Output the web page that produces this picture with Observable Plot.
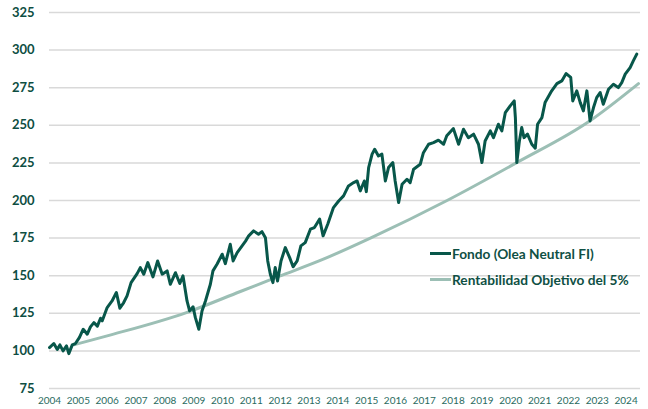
<!DOCTYPE html>
<html>
<head>
<meta charset="utf-8">
<script src="https://cdn.jsdelivr.net/npm/d3@7"></script>
<script src="https://cdn.jsdelivr.net/npm/@observablehq/plot@0.6"></script>
<style>
  html, body { margin: 0; padding: 0; background: #ffffff; }
  #wrap { position: relative; width: 648px; height: 409px; font-family: Lato, "Open Sans", sans-serif; }
  #wrap svg { display: block; }
  g[aria-label="y-axis tick label"] { fill: #0e4e42; font-weight: 700; font-size: 13px; }
  g[aria-label="x-axis tick label"] { fill: #2a6b5f; font-size: 10px; }
  #legend { position: absolute; left: 430px; top: 244px; font-weight: 700; font-size: 13.7px; color: #0f5044; }
  #legend .row { display: flex; align-items: center; height: 18px; margin-bottom: 8px; white-space: nowrap; }
  #legend .sw { width: 21px; height: 3px; margin-right: 1px; }
</style>
</head>
<body>
<div id="wrap">
  <div id="legend"></div>
</div>
<script>
// Series names and colours
const seriesNames = ["Fondo (Olea Neutral FI)", "Rentabilidad Objetivo del 5%"];
const seriesColors = ["#08574a", "#9cbfb5"];

// Axis ticks
const yearTicks = [2004,2005,2006,2007,2008,2009,2010,2011,2012,2013,2014,2015,2016,2017,2018,2019,2020,2021,2022,2023,2024];
const valueTicks = [75,100,125,150,175,200,225,250,275,300,325];

// Fund
const fundYears = [
  2004.0,2004.15,2004.27,2004.36,2004.47,2004.59,2004.67,2004.79,2004.9,2005.04,2005.17,2005.31,2005.42,2005.54,2005.66,2005.77,2005.83,
  2006.0,2006.17,2006.32,2006.44,2006.57,2006.69,2006.83,2007.04,2007.15,2007.27,2007.41,2007.59,2007.75,2007.91,
  2008.08,2008.19,2008.37,2008.52,2008.63,2008.77,2008.86,2008.98,2009.06,2009.18,2009.29,2009.41,2009.58,2009.67,2009.81,2009.99,
  2010.1,2010.27,2010.37,2010.51,2010.68,2010.8,2010.91,2011.08,2011.25,2011.37,2011.49,2011.57,2011.66,2011.75,2011.83,2011.91,
  2012.03,2012.18,2012.33,2012.45,2012.59,2012.72,2012.87,2013.05,2013.19,2013.37,2013.49,2013.65,2013.85,
  2014.03,2014.2,2014.37,2014.55,2014.67,2014.78,2014.92,2014.99,2015.07,2015.19,2015.28,2015.41,2015.53,2015.65,2015.76,2015.91,2015.99,
  2016.11,2016.23,2016.4,2016.51,2016.63,2016.86,2016.97,2017.15,2017.32,2017.49,2017.67,2017.78,2018.01,
  2018.19,2018.36,2018.53,2018.71,2018.88,2019.0,2019.11,2019.29,2019.4,2019.57,2019.69,2019.81,2019.98,
  2020.12,2020.16,2020.21,2020.3,2020.38,2020.46,2020.58,2020.73,2020.85,2020.93,2021.08,2021.19,2021.42,2021.6,2021.77,2021.92,
  2022.08,2022.15,2022.29,2022.41,2022.52,2022.64,2022.75,2022.87,2022.98,2023.1,2023.21,2023.39,2023.56,2023.73,2023.85,2023.97,
  2024.14,2024.25,2024.37
];
const fundValues = [
  102.2,104.9,101,104,100,103.3,98.2,104,104.9,109,114.4,111.1,116,118.8,116.5,121.7,120,
  128.8,133.2,138.8,128.4,132,136.6,145.4,151.4,155.4,151,158.7,149.2,159.8,151,
  153.2,144.3,152,144.8,149.9,133.2,126.6,129.3,122.1,114.4,126.6,133.2,144.3,153.2,157.6,164.3,
  158,170.9,159.8,165.4,169.8,173,176.5,179.8,177.6,179.3,175.3,159.8,151,145.4,155.4,146.5,
  159.8,168.7,162,155.9,159.8,169.8,172,180.9,182,187.6,176.5,184.2,195.3,
  199.7,203.1,209.7,211.9,213,206.4,213,205.9,221.9,230.8,234.1,229.6,230.8,213,221.9,225.2,213,
  198.6,210.8,214.1,211.9,220.8,224.1,231.8,237.4,238.5,240.1,237.4,243,247.8,
  237.4,247.4,241.8,244.1,237.4,225.2,239.6,246.3,241.8,250.7,246.3,258.4,262.9,
  266.2,255.1,225.2,239.6,248.5,241.8,244.1,237.4,234.8,250.7,255.1,265.1,272.9,277.7,279.5,284.4,
  281.8,266.2,272.9,265.1,259.6,272.9,252.9,261.8,268.4,271.8,264,274,277.3,275.1,278.4,284,
  288.4,292.8,297.3
];

// 5% target path
const targetYears = [2004.84,2006.0,2008.75,2010.62,2011.95,2013.5,2015.13,2017.79,2020.19,2022.75,2024.43];
const targetValues = [104,110,125.5,139.5,149.5,161,175,200,225,253,277.7];

const fund = fundYears.map((y, i) => ({year: y, value: fundValues[i]}));
const target = targetYears.map((y, i) => ({year: y, value: targetValues[i]}));

const chart = Plot.plot({
  width: 648,
  height: 409,
  marginLeft: 49,
  marginRight: 8,
  marginTop: 12,
  marginBottom: 21,
  style: {fontFamily: "Lato, 'Open Sans', sans-serif", background: "#ffffff", overflow: "visible"},
  x: {domain: [2004, 2024.5], label: null},
  y: {domain: [75, 325], label: null},
  marks: [
    Plot.gridY(valueTicks, {stroke: "#d9d9d9", strokeOpacity: 1, strokeWidth: 1.5}),
    Plot.axisY(valueTicks, {tickSize: 0, tickPadding: 15, label: null}),
    Plot.axisX(yearTicks, {tickSize: 0, tickPadding: 8, tickFormat: d => String(d), label: null}),
    Plot.line(target, {x: "year", y: "value", stroke: seriesColors[1], strokeWidth: 3, curve: "monotone-x"}),
    Plot.line(fund, {x: "year", y: "value", stroke: seriesColors[0], strokeWidth: 3, strokeLinejoin: "round"})
  ]
});
const wrap = document.getElementById("wrap");
wrap.insertBefore(chart, wrap.firstChild);

const legend = document.getElementById("legend");
seriesNames.forEach((name, i) => {
  const row = document.createElement("div");
  row.className = "row";
  const sw = document.createElement("span");
  sw.className = "sw";
  sw.style.background = seriesColors[i];
  const t = document.createElement("span");
  t.textContent = name;
  row.appendChild(sw);
  row.appendChild(t);
  legend.appendChild(row);
});
</script>
</body>
</html>
